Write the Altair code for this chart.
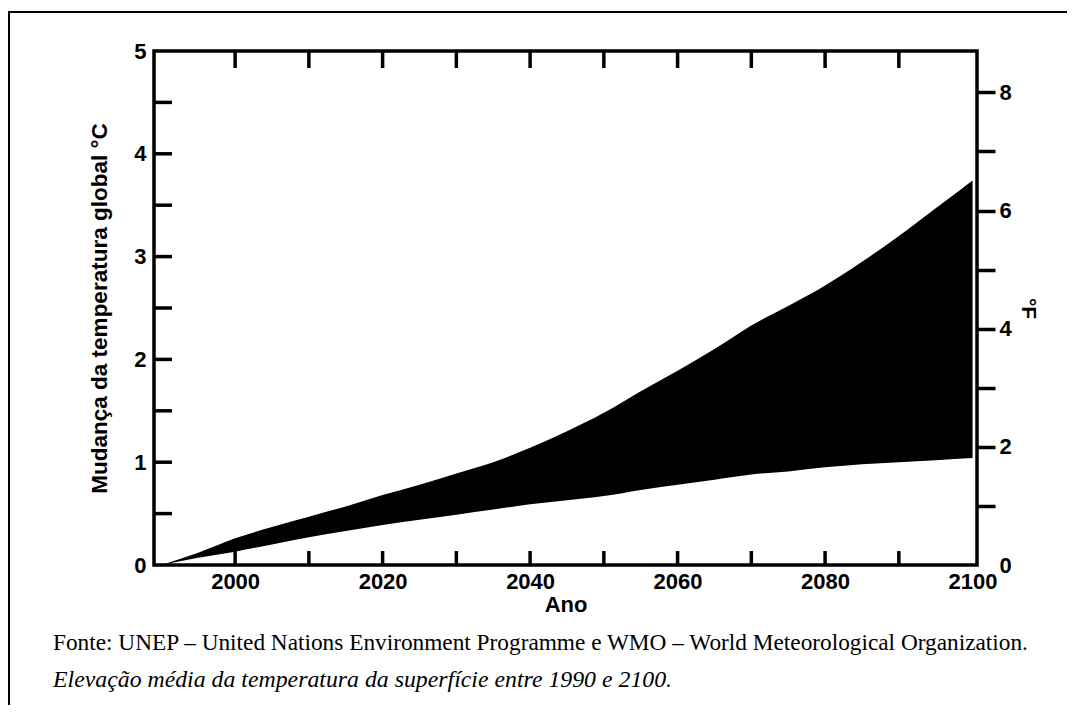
import altair as alt
import pandas as pd

# ---- data ----
years = [1990, 1995, 2000, 2005, 2010, 2015, 2020, 2025, 2030, 2035, 2040, 2045,
         2050, 2055, 2060, 2065, 2070, 2075, 2080, 2085, 2090, 2095, 2100]
upper = [0.00, 0.12, 0.26, 0.37, 0.47, 0.57, 0.68, 0.78, 0.89, 1.00, 1.14, 1.30,
         1.48, 1.69, 1.89, 2.10, 2.33, 2.52, 2.72, 2.95, 3.20, 3.47, 3.74]
lower = [0.00, 0.07, 0.13, 0.20, 0.27, 0.33, 0.39, 0.44, 0.49, 0.54, 0.59, 0.63,
         0.67, 0.73, 0.78, 0.83, 0.88, 0.91, 0.95, 0.98, 1.00, 1.02, 1.04]

x_labels = [2000, 2020, 2040, 2060, 2080, 2100]
year_ticks = [2000, 2010, 2020, 2030, 2040, 2050, 2060, 2070, 2080, 2090]
c_labels = [0, 1, 2, 3, 4, 5]
c_ticks = [0.5, 1.0, 1.5, 2.0, 2.5, 3.0, 3.5, 4.0, 4.5]
f_ticks = [0, 1, 2, 3, 4, 5, 6, 7, 8]

caption_source = ["Fonte: UNEP – United Nations Environment Programme e WMO – World Meteorological Organization."]
caption_note = ["Elevação média da temperatura da superfície entre 1990 e 2100."]

W, H = 823, 514
PAD = {"left": 146, "top": 43, "right": 90, "bottom": 140}

xscale = alt.Scale(domain=[1989, 2100.6], nice=False, zero=False)
yscale = alt.Scale(domain=[0, 5], nice=False, zero=False)
fscale = alt.Scale(domain=[0, 8.7], nice=False, zero=False)

SANS = "Liberation Sans"
SERIF = "Liberation Serif"

x_axis = alt.Axis(values=x_labels, format="d", title="Ano", ticks=False, tickSize=0,
                  domain=False, grid=False, labelPadding=6, titlePadding=2,
                  labelFont=SANS, labelFontSize=22, labelFontWeight="bold", labelColor="black",
                  titleFont=SANS, titleFontSize=22, titleFontWeight="bold", titleColor="black")

band_df = pd.DataFrame({"Ano": years, "upper": upper, "lower": lower})

band = alt.Chart(band_df).mark_area(color="black", interpolate="monotone").encode(
    x=alt.X("Ano:Q", scale=xscale, axis=x_axis),
    y=alt.Y("upper:Q", scale=yscale,
            axis=alt.Axis(values=c_labels, title="Mudança da temperatura global °C", ticks=False, tickSize=0,
                          domain=False, grid=False, labelPadding=8, titlePadding=22,
                          labelFont=SANS, labelFontSize=22, labelFontWeight="bold", labelColor="black",
                          titleFont=SANS, titleFontSize=22.5, titleFontWeight="bold", titleColor="black")),
    y2="lower:Q",
)

left_ticks = alt.Chart(pd.DataFrame({"c": c_ticks})).mark_rule(color="black", strokeWidth=3.5).encode(
    y=alt.Y("c:Q", scale=yscale, axis=None),
    x=alt.value(0), x2=alt.value(18),
)

yt_df = pd.DataFrame({"Ano": year_ticks})
top_ticks = alt.Chart(yt_df).mark_rule(color="black", strokeWidth=3.5).encode(
    x=alt.X("Ano:Q", scale=xscale, axis=x_axis),
    y=alt.value(0), y2=alt.value(17),
)
bottom_ticks = alt.Chart(yt_df).mark_rule(color="black", strokeWidth=3.5).encode(
    x=alt.X("Ano:Q", scale=xscale, axis=x_axis),
    y=alt.value(H - 14), y2=alt.value(H),
)

one = pd.DataFrame({"k": [0]})
frame_left = alt.Chart(one).mark_rule(color="black", strokeWidth=2).encode(
    x=alt.value(-145), y=alt.value(-39), y2=alt.value(H + PAD["bottom"]),
)
frame_top = alt.Chart(one).mark_rule(color="black", strokeWidth=2).encode(
    x=alt.value(-146), x2=alt.value(W + PAD["right"]), y=alt.value(-39),
)

cap1 = alt.Chart(pd.DataFrame({"t": caption_source})).mark_text(
    align="left", baseline="alphabetic", font=SERIF, fontSize=23.3, color="black"
).encode(text="t:N", x=alt.value(-101), y=alt.value(599))
cap2 = alt.Chart(pd.DataFrame({"t": caption_note})).mark_text(
    align="left", baseline="alphabetic", font=SERIF, fontSize=23.8, fontStyle="italic", color="black"
).encode(text="t:N", x=alt.value(-101), y=alt.value(636))

f_layer = alt.Chart(pd.DataFrame({"F": f_ticks})).mark_point(opacity=0).encode(
    y=alt.Y("F:Q", scale=fscale,
            axis=alt.Axis(orient="right", values=f_ticks, title="°F",
                          labelExpr="datum.value % 2 == 0 ? datum.label : ''",
                          tickSize=18, tickWidth=3.5, tickColor="black",
                          tickOpacity={"condition": {"test": "datum.value == 0", "value": 0}, "value": 1},
                          domain=False, grid=False, labelPadding=4, titlePadding=6,
                          labelFont=SANS, labelFontSize=22, labelFontWeight="bold", labelColor="black",
                          titleFont=SANS, titleFontSize=21, titleFontWeight="bold", titleColor="black")),
)

chart = alt.layer(
    band, left_ticks, top_ticks, bottom_ticks, frame_left, frame_top, cap1, cap2, f_layer
).resolve_scale(y="independent").properties(
    width=W, height=H,
    autosize=alt.AutoSizeParams(type="none"),
    padding=PAD,
    background="white",
).configure_view(stroke="black", strokeWidth=3.5)

chart.save("out.html", embed_options={"renderer": "svg", "actions": False})
